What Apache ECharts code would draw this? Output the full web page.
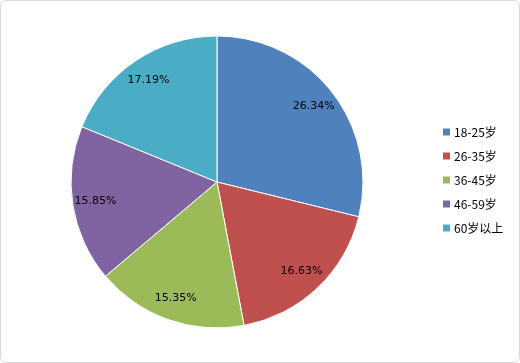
<!DOCTYPE html>
<html><head><meta charset="utf-8">
<script src="https://cdn.jsdelivr.net/npm/echarts@6/dist/echarts.min.js"></script>
<style>html,body{margin:0;padding:0;background:#fff;}#c{width:518px;height:361px;border:1px solid #d9d9d9;border-radius:6px;}</style>
</head><body><div id="c"></div>
<script>
const categories = ['18-25岁','26-35岁','36-45岁','46-59岁','60岁以上'];
const values = [26.34, 16.63, 15.35, 15.85, 17.19];
const colors = ['#4F81BD','#C0504D','#9BBB59','#8064A2','#4BACC6'];
const data = categories.map((n,i)=>({name:n, value:values[i]}));
const chart = echarts.init(document.getElementById('c'));
chart.setOption({
  animation:false,
  color: colors,
  legend:{orient:'vertical', left:440, top:125, padding:0, itemWidth:9, itemHeight:9, itemGap:12,
    icon:'rect', textStyle:{fontSize:12, color:'#000', padding:[0,0,0,-2], fontFamily:'"Noto Sans CJK SC", sans-serif'}, data:categories},
  series:[
    {type:'pie', center:[216,181], radius:[0,146], startAngle:90, clockwise:true,
     data:data, label:{show:false}, labelLine:{show:false}, silent:true,
     itemStyle:{borderColor:'#fff', borderWidth:1}},
    {type:'pie', center:[216,181], radius:[94,146], startAngle:90, clockwise:true,
     data:data, silent:true, itemStyle:{color:'transparent'}, legendHoverLink:false,
     label:{show:true, position:'inside', formatter:p=>p.value.toFixed(2)+'%', color:'#000', fontSize:11, fontFamily:'"DejaVu Sans", sans-serif'},
     labelLine:{show:false}}
  ]
});
</script></body></html>
